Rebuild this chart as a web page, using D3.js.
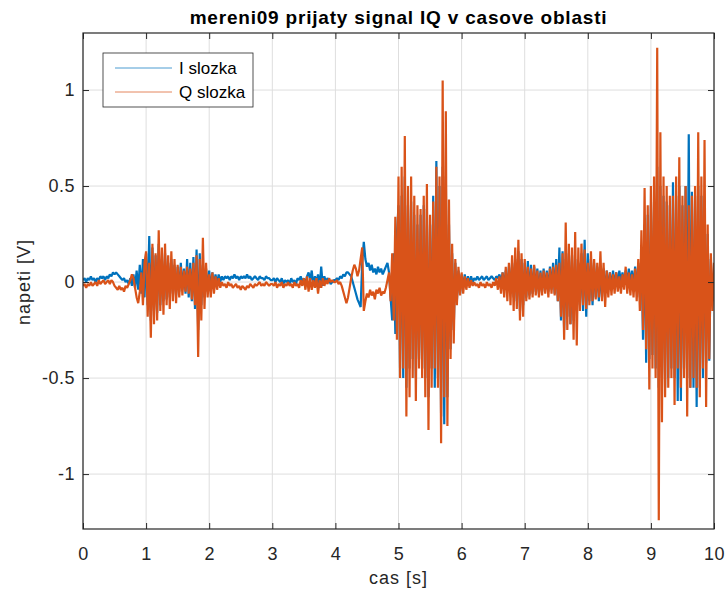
<!DOCTYPE html>
<html>
<head>
<meta charset="utf-8">
<script src="https://cdn.jsdelivr.net/npm/d3@7"></script>
<style>
  body { margin: 0; background: #fff; }
  text { font-family: "Liberation Sans", Arial, sans-serif; }
</style>
</head>
<body>
<div id="chart"></div>
<script>
// I slozka (blue), samples every 0.025 s, one line per second
const iSlozka = [
  .01,.02,0,.02,.01,.03,.01,.02,0,.02, .01,.03,.02,.03,.01,.03,.02,.04,.03,.05, .04,.05,.04,.03,.02,.01,.02,0,.01,-.01, .02,-.02,.04,-.03,.06,-.04,.09,-.06,.12,-.08,
  .15,-.12,.24,-.2,.18,-.15,.14,-.16,.2,-.12, .12,-.1,.15,-.09,.1,-.08,.12,-.06,.09,-.07, .08,-.05,.1,-.04,.07,-.06,.12,-.08,.1,-.1, .13,-.14,.17,-.25,.15,-.12,.09,-.08,.07,-.05,
  .06,-.04,.05,-.02,.04,-.01,.04,0,.03,.01, .03,.02,.03,.01,.03,.02,.04,.02,.03,.01, .03,.02,.03,.02,.04,.02,.03,.01,.02,.03, .02,.01,.03,.02,.02,.01,.03,.02,.02,.01,
  .01,.02,0,.02,.01,0,.02,-.01,.01,0, .01,-.01,.02,0,.01,-.01,.02,.01,.03,0, .02,-.01,.03,.05,.01,.06,-.02,.03,0,.04, -.03,.08,-.02,.03,0,.02,.01,-.01,0,.01,
  .01,.02,.01,.03,.02,.04,.03,.05,.05,.04, .03,0,-.03,-.06,-.09,-.11,-.13,.1,.21,.12, .08,.1,.06,.09,.05,.07,.04,.08,.05,.07, .04,.06,.08,.1,.05,-.08,-.2,.15,-.27,.25,
  .4,-.45,.45,-.5,.55,-.55,.4,-.45,.42,-.4, .35,-.5,.3,-.4,.35,-.45,.4,-.5,.38,-.6, .3,-.45,.45,-.55,.63,-.5,.5,-.7,.6,-.74, .55,-.6,.3,-.35,.15,-.25,.1,-.1,.06,-.06,
  .04,-.03,.04,-.02,.03,-.01,.03,0,.02,.01, .03,.01,.02,.03,.01,.02,.03,.01,.02,.03, .02,.01,.03,.02,.04,0,.05,-.02,.06,-.04, .08,-.06,.1,-.08,.12,-.1,.16,-.15,.12,-.12,
  .1,-.08,.11,-.07,.09,-.06,.08,-.05,.07,-.06, .06,-.05,.07,-.04,.06,-.05,.08,-.04,.1,-.06, .12,-.1,.18,-.2,.16,-.25,.12,-.18,.15,-.22, .14,-.2,.12,-.15,.1,-.12,.15,-.15,.22,-.18,
  .15,-.1,.12,-.12,.1,-.08,.08,-.1,.06,-.08, .07,-.06,.06,-.04,.05,-.03,.06,-.02,.05,-.01, .06,0,.05,-.01,.06,0,.07,-.01,.06,-.02, .08,-.05,.1,-.08,.15,-.3,.3,-.42,.35,-.4,
  .4,-.38,.42,-.45,.6,-.55,.5,-.5,.45,-.55, .42,-.5,.4,-.45,.52,-.5,.45,-.62,.5,-.62, .4,-.45,.5,-.5,.77,-.55,.47,-.55,.45,-.65, .5,-.55,.45,-.5,.4,-.42,.25,-.41,.12,-.1,
  .05
];

// Q slozka (orange)
const qSlozka = [
  -.02,-.01,-.03,-.01,-.02,0,-.02,-.01,0,-.02, .01,-.01,0,.01,-.01,0,.01,-.01,.01,0, -.02,-.03,-.04,-.02,-.04,-.03,-.05,-.02,-.03,-.01, .01,.04,.02,-.03,-.08,-.11,-.05,.05,-.12,.1,
  .16,-.18,.1,-.29,.2,-.22,.15,-.2,.27,-.15, .18,-.17,.2,-.12,.14,-.14,.16,-.1,.12,-.11, .09,-.08,.08,-.07,.06,-.05,.08,-.06,.07,-.09, .1,-.12,.14,-.39,.12,-.2,.23,-.14,.1,-.08,
  .04,-.08,.05,-.06,.03,-.04,.02,-.03,0,-.02, -.01,-.03,0,-.02,-.01,-.03,-.02,-.01,-.03,-.02, -.04,-.02,-.03,-.04,-.02,-.03,-.01,-.02,-.03,-.01, -.02,-.01,0,-.02,-.01,-.02,0,-.01,-.02,-.01,
  -.01,-.02,0,-.03,-.01,-.02,0,-.03,-.01,-.02, 0,-.02,-.01,-.03,0,-.02,-.01,-.03,.01,-.02, .02,-.04,.03,-.05,.02,-.04,.01,-.03,.02,-.06, .01,-.03,.02,-.02,.01,-.01,.02,0,.01,0,
  0,.01,-.01,0,-.02,-.05,-.08,-.11,-.08,-.03, .02,.06,.09,.07,.03,.06,.12,.18,-.15,-.1, -.06,-.08,-.04,-.07,-.05,-.09,-.04,-.06,-.03,-.07, -.05,-.06,-.03,.01,.05,-.1,.15,-.2,.34,-.3,
  .55,-.5,.6,-.45,.76,-.7,.5,-.6,.55,-.5, .45,-.62,.4,-.45,.38,-.5,.45,-.6,.51,-.77, .35,-.55,.42,-.45,.6,-.55,.55,-.84,1.05,-.6, .89,-.75,.43,-.4,.2,-.32,.12,-.12,.08,-.07,
  .05,-.06,.03,-.04,.02,-.03,.01,-.02,0,-.02, -.01,-.03,0,-.02,-.01,-.03,0,-.02,-.01,-.03, 0,-.02,.02,-.04,.03,-.06,.05,-.08,.08,-.1, .1,-.12,.14,-.15,.18,-.14,.22,-.2,.15,-.18,
  .12,-.1,.08,-.09,.07,-.08,.09,-.07,.06,-.08, .05,-.07,.06,-.06,.05,-.08,.07,-.06,.08,-.07, .09,-.1,.1,-.18,.15,-.3,.31,-.25,.2,-.22, .18,-.3,.26,-.33,.18,-.15,.2,-.12,.17,-.14,
  .1,-.12,.16,-.1,.12,-.09,.1,-.08,.16,-.1, .1,-.13,.06,-.08,.05,-.07,.04,-.06,.05,-.05, .03,-.06,.04,-.04,.08,-.06,.05,-.07,.04,-.08, .07,-.1,.12,-.15,.27,-.25,.49,-.35,.4,-.56,
  .5,-.45,.55,-.5,1.22,-1.24,.78,-.73,.55,-.6, .5,-.55,.45,-.5,.45,-.64,.55,-.45,.65,-.55, .45,-.5,.5,-.7,.4,-.55,.45,-.5,.5,-.55, .78,-.6,.55,-.45,.74,-.65,.3,-.4,.15,-.15,
  .1
];

const casKrok = 0.025;
const xTicks = [0, 1, 2, 3, 4, 5, 6, 7, 8, 9, 10];
const yTicks = [-1, -0.5, 0, 0.5, 1];
const yTickLabels = ["-1", "-0.5", "0", "0.5", "1"];
const nazvyRad = ["I slozka", "Q slozka"];
const barvy = ["#0072BD", "#D95319"];

const margin = { top: 33, right: 13, bottom: 62, left: 83 },
    width = 727 - margin.left - margin.right,
    height = 591 - margin.top - margin.bottom;

const root = d3.select("#chart")
    .append("svg")
    .attr("width", 727)
    .attr("height", 591);

const svg = root.append("g")
    .attr("transform", `translate(${margin.left},${margin.top})`);

const xScale = d3.scaleLinear().domain([0, 10]).range([0, width]);
const yScale = d3.scaleLinear().domain([-1.286, 1.297]).range([height, 0]);

// grid
svg.append("g")
    .selectAll("line")
    .data(xTicks)
    .join("line")
    .attr("x1", d => xScale(d)).attr("x2", d => xScale(d))
    .attr("y1", 0).attr("y2", height)
    .attr("stroke", "#dedede").attr("stroke-width", 1);
svg.append("g")
    .selectAll("line")
    .data(yTicks)
    .join("line")
    .attr("x1", 0).attr("x2", width)
    .attr("y1", d => yScale(d)).attr("y2", d => yScale(d))
    .attr("stroke", "#dedede").attr("stroke-width", 1);

// signals
svg.append("clipPath").attr("id", "clip")
    .append("rect").attr("width", width).attr("height", height);

const serie = [iSlozka, qSlozka];
const line = d3.line()
    .x((d, i) => xScale(i * casKrok))
    .y(d => yScale(d));

svg.append("g")
    .attr("clip-path", "url(#clip)")
    .selectAll("path")
    .data(serie)
    .join("path")
    .attr("fill", "none")
    .attr("stroke", (d, i) => barvy[i])
    .attr("stroke-width", 2.2)
    .attr("stroke-linejoin", "bevel")
    .attr("d", line);

// axes
const styleAxis = g => {
    g.select(".domain").remove();
    g.selectAll(".tick line").attr("stroke", "#262626");
    g.selectAll(".tick text").attr("fill", "#262626").attr("font-size", 18)
        .attr("letter-spacing", 0.5)
        .style("font-family", "'Liberation Sans', Arial, sans-serif");
};

svg.append("g")
    .attr("transform", `translate(0,${height})`)
    .call(d3.axisBottom(xScale).tickValues(xTicks).tickFormat(d3.format("d"))
        .tickSizeInner(-6).tickSizeOuter(0).tickPadding(18))
    .call(styleAxis);
svg.append("g")
    .call(d3.axisTop(xScale).tickValues(xTicks).tickFormat("")
        .tickSizeInner(-6).tickSizeOuter(0))
    .call(styleAxis);
svg.append("g")
    .call(d3.axisLeft(yScale).tickValues(yTicks).tickFormat((d, i) => yTickLabels[i])
        .tickSizeInner(-6).tickSizeOuter(0).tickPadding(8))
    .call(styleAxis);
svg.append("g")
    .attr("transform", `translate(${width},0)`)
    .call(d3.axisRight(yScale).tickValues(yTicks).tickFormat("")
        .tickSizeInner(-6).tickSizeOuter(0))
    .call(styleAxis);

svg.append("rect")
    .attr("width", width).attr("height", height)
    .attr("fill", "none").attr("stroke", "#262626").attr("stroke-width", 1.2);

// legend
const legend = svg.append("g").attr("transform", "translate(20,20)");
legend.append("rect")
    .attr("width", 150).attr("height", 54)
    .attr("fill", "#fff").attr("stroke", "#262626").attr("stroke-width", 0.8);
nazvyRad.forEach((n, i) => {
    legend.append("line")
        .attr("x1", 12).attr("x2", 69)
        .attr("y1", 15 + i * 24).attr("y2", 15 + i * 24)
        .attr("stroke", barvy[i]).attr("stroke-width", 1).attr("stroke-opacity", 0.7);
    legend.append("text")
        .attr("x", 76).attr("y", 15 + i * 24).attr("dy", "0.35em")
        .attr("font-size", 17).attr("fill", "#000")
        .text(n);
});

// title and labels
root.append("text")
    .attr("x", margin.left + width / 2).attr("y", 24)
    .attr("text-anchor", "middle")
    .attr("font-size", 19).attr("font-weight", "bold").attr("fill", "#000")
    .attr("letter-spacing", 0.8)
    .text("mereni09 prijaty signal IQ v casove oblasti");

root.append("text")
    .attr("x", margin.left + width / 2).attr("y", 584)
    .attr("text-anchor", "middle")
    .attr("font-size", 18).attr("fill", "#262626")
    .attr("letter-spacing", 1)
    .text("cas [s]");

root.append("text")
    .attr("transform", `translate(29.5,${margin.top + yScale(0)}) rotate(-90)`)
    .attr("text-anchor", "middle")
    .attr("font-size", 18).attr("fill", "#262626")
    .attr("letter-spacing", 1)
    .text("napeti [V]");
</script>
</body>
</html>
